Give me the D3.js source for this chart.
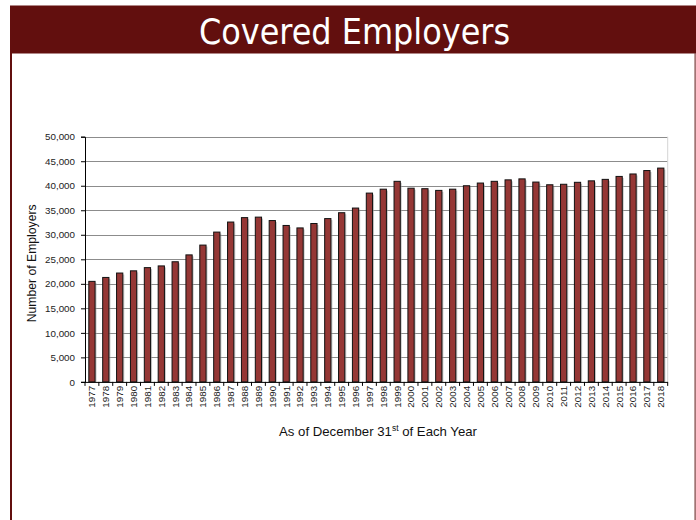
<!DOCTYPE html>
<html>
<head>
<meta charset="utf-8">
<script src="https://cdn.jsdelivr.net/npm/d3@7"></script>
<style>
  html, body { margin: 0; padding: 0; background: #fff; }
  svg { display: block; }
</style>
</head>
<body>
<svg id="chart" width="696" height="520"></svg>
<script>
const title = "Covered Employers";
const years = [1977,1978,1979,1980,1981,1982,1983,1984,1985,1986,1987,1988,1989,1990,1991,1992,1993,1994,1995,1996,1997,1998,1999,2000,2001,2002,2003,2004,2005,2006,2007,2008,2009,2010,2011,2012,2013,2014,2015,2016,2017,2018];
const employers = [20500,21300,22200,22650,23300,23650,24500,25900,27900,30550,32600,33500,33600,32900,31900,31400,32300,33300,34500,35450,38500,39300,40900,39500,39400,39050,39300,40000,40550,40900,41200,41400,40750,40200,40300,40700,41000,41300,41900,42400,43100,43600];
const yTicks = [0,5000,10000,15000,20000,25000,30000,35000,40000,45000,50000];
const yTitle = "Number of Employers";

const svg = d3.select("#chart");

// slide frame
svg.append("rect").attr("x", 0).attr("y", 0).attr("width", 696).attr("height", 520).attr("fill", "#fff");
svg.append("rect").attr("x", 10).attr("y", 5.5).attr("width", 686).attr("height", 48).attr("fill", "#620f0e");
svg.append("rect").attr("x", 10).attr("y", 53).attr("width", 2).attr("height", 467).attr("fill", "#620f0e");
svg.append("rect").attr("x", 694.5).attr("y", 53).attr("width", 1.2).attr("height", 467).attr("fill", "#7a3a3a");

svg.append("text")
  .attr("x", 354.5).attr("y", 44)
  .attr("text-anchor", "middle")
  .attr("fill", "#fff")
  .attr("font-family", "'DejaVu Sans Condensed', 'DejaVu Sans', sans-serif")
  .attr("font-size", 35.5)
  .text(title);

const pL = 85, pR = 667.7, pT = 136.7, pB = 381.9;

const x = d3.scaleBand().domain(years).range([pL, pR]).paddingInner(0.55).paddingOuter(0.275);
const y = d3.scaleLinear().domain([0, 50000]).range([pB, pT]);

// gridlines
svg.append("g").selectAll("line").data(yTicks.filter(d => d > 0)).join("line")
  .attr("x1", pL).attr("x2", pR)
  .attr("y1", d => Math.round(y(d)) + 0.5).attr("y2", d => Math.round(y(d)) + 0.5)
  .attr("stroke", "#8c8c8c").attr("stroke-width", 1);

// right plot border (faint)
svg.append("line").attr("x1", pR).attr("x2", pR).attr("y1", pT).attr("y2", pB)
  .attr("stroke", "#d4d4d4");

// bar shadows
svg.append("g").selectAll("rect").data(employers).join("rect")
  .attr("x", (d, i) => x(years[i]) + 1.5)
  .attr("y", d => y(d) + 1.5)
  .attr("width", x.bandwidth())
  .attr("height", d => pB - y(d) - 1.5)
  .attr("fill", "#9a9a9a").attr("opacity", 0.55);

// bars
svg.append("g").selectAll("rect").data(employers).join("rect")
  .attr("x", (d, i) => x(years[i]))
  .attr("y", d => y(d))
  .attr("width", x.bandwidth())
  .attr("height", d => pB - y(d))
  .attr("fill", "#953735").attr("stroke", "#111").attr("stroke-width", 1);

// y axis
const yAxis = d3.axisLeft(y).tickValues(yTicks).tickFormat(d3.format(",")).tickSize(4).tickPadding(6);
const gy = svg.append("g").attr("transform", `translate(${pL},0)`).call(yAxis);
gy.select(".domain").attr("stroke", "#000");
gy.selectAll(".tick line").attr("stroke", "#000");
gy.selectAll("text").attr("font-family", "'Liberation Sans', Arial, sans-serif").attr("font-size", 9.8).attr("fill", "#222");

// x axis
const xAxis = d3.axisBottom(x).tickSize(0).tickPadding(0);
const gx = svg.append("g").attr("transform", `translate(0,${pB})`).call(xAxis);
gx.select(".domain").attr("stroke", "#000").attr("d", `M${pL - 4},0.5H${pR}`);
gx.selectAll(".tick text")
  .attr("font-family", "'Liberation Sans', Arial, sans-serif").attr("font-size", 9.8).attr("fill", "#222")
  .attr("transform", "rotate(-90)")
  .attr("text-anchor", "end")
  .attr("x", -4).attr("y", 0).attr("dy", "0.35em");
// boundary ticks
const bounds = years.map(yv => x(yv) - x.step() * x.paddingInner() / 2).concat([pR]);
gx.append("g").selectAll("line").data(bounds).join("line")
  .attr("x1", d => d).attr("x2", d => d).attr("y1", 0).attr("y2", 4)
  .attr("stroke", "#000");

// axis titles
const xt = svg.append("text")
  .attr("x", 378).attr("y", 436)
  .attr("text-anchor", "middle")
  .attr("font-family", "'Liberation Sans', Arial, sans-serif").attr("font-size", 13.2).attr("fill", "#111");
xt.append("tspan").text("As of December 31");
xt.append("tspan").attr("font-size", 8.5).attr("dy", -5).text("st");
xt.append("tspan").attr("dy", 5).text(" of Each Year");

svg.append("text")
  .attr("transform", `translate(36,${(pT + pB) / 2 + 4}) rotate(-90)`)
  .attr("text-anchor", "middle")
  .attr("font-family", "'Liberation Sans', Arial, sans-serif").attr("font-size", 12.2).attr("fill", "#111")
  .text(yTitle);
</script>
</body>
</html>
